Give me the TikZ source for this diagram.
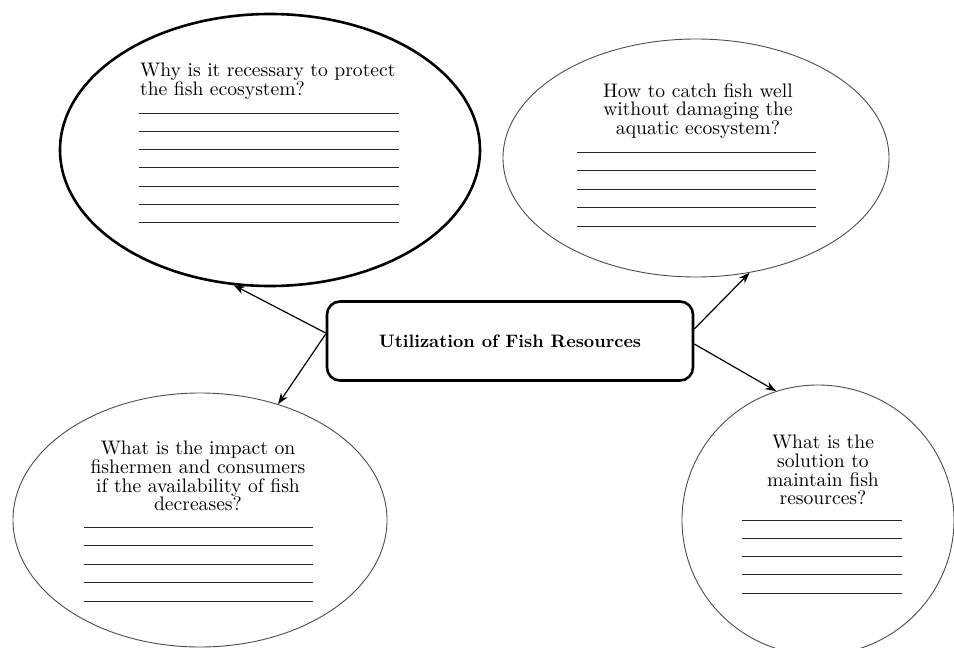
\documentclass[tikz,border=0pt]{standalone}
\usepackage{fontspec}
\setmainfont{lmroman10-regular.otf}[BoldFont=lmroman10-bold.otf]
\usetikzlibrary{shapes.geometric,arrows.meta}
\begin{document}
\begin{tikzpicture}[x=1pt,y=-1pt,
  bubble/.style={draw=black!70, ellipse, inner sep=0pt, line width=0.9pt},
  thickbubble/.style={draw=black, ellipse, inner sep=0pt, line width=2.6pt},
  qtext/.style={inner sep=0pt, align=center, font=\fontsize{19.6}{18.7}\selectfont},
  writeline/.style={line width=1pt, draw=black!85},
  hub/.style={draw, rounded corners=13pt, line width=2.6pt, minimum width=366pt, minimum height=79pt, inner sep=0pt, font=\bfseries\fontsize{18}{20}\selectfont},
  link/.style={-{Stealth[length=11pt,width=8pt]}, line width=1.2pt}]
\useasboundingbox (0,0) rectangle (954,648);

\node[thickbubble, minimum width=420pt, minimum height=272pt] (tl) at (270,150) {};
\node[bubble, minimum width=386pt, minimum height=238pt] (tr) at (696,158) {};
\node[bubble, minimum width=374pt, minimum height=254pt] (bl) at (200,520) {};
\node[bubble, minimum width=272pt, minimum height=270pt] (br) at (818,520) {};
\node[hub] (hub) at (510,341) {Utilization of Fish Resources};

\node[qtext, anchor=north west, align=left] (tlq) at (140,63) {Why is it recessary to protect\\the fish ecosystem?};
\node[qtext, anchor=north] (trq) at (698,83) {How to catch fish well\\without damaging the\\aquatic ecosystem?};
\node[qtext, anchor=north] (blq) at (198,441) {What is the impact on\\fishermen and consumers\\if the availability of fish\\decreases?};
\node[qtext, anchor=north] (brq) at (823,435) {What is the\\solution to\\maintain fish\\resources?};

\foreach \i in {0,...,6} \draw[writeline] (139,{113+18.3*\i}) -- (399,{113+18.3*\i});
\foreach \i in {0,...,4} \draw[writeline] (577,{152+18.5*\i}) -- (816,{152+18.5*\i});
\foreach \i in {0,...,4} \draw[writeline] (84,{527+18.5*\i}) -- (313,{527+18.5*\i});
\foreach \i in {0,...,4} \draw[writeline] (742,{520+18.3*\i}) -- (902,{520+18.3*\i});

\draw[link] ([yshift=8pt]hub.west) -- (tl.-105);
\draw[link] ([yshift=7pt]hub.west) -- (bl.56);
\draw[link] ([yshift=12pt]hub.east) -- (tr.-65);
\draw[link] ([yshift=-3pt]hub.east) -- (br.108);
\end{tikzpicture}
\end{document}
